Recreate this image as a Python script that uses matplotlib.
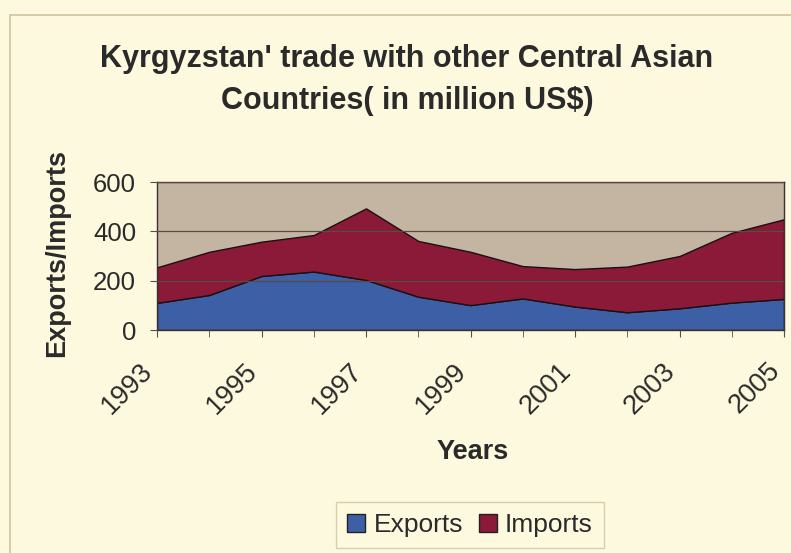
import numpy as np
import matplotlib
matplotlib.use('Agg')
import matplotlib.pyplot as plt
from matplotlib.patches import Rectangle, Patch
from matplotlib.transforms import ScaledTranslation

# Kyrgyzstan trade with other Central Asian countries, million US$
years = list(range(1993, 2006))
exports = [110, 142, 219, 237, 203, 135, 101, 128, 95, 72, 88, 111, 126]
imports = [144, 175, 139, 148, 290, 226, 216, 131, 152, 185, 212, 283, 323]
year_labels = [str(y) for y in years[::2]]

plt.rcParams['font.family'] = ['Liberation Sans', 'DejaVu Sans']

bg = '#fdf9de'
ink = '#2a2a2a'
fig = plt.figure(figsize=(7.91, 5.53), dpi=100, facecolor=bg)
ax = fig.add_axes([157/791, 1 - 330/553, 627/791, 148/553])
ax.set_facecolor('#c4b5a3')

ax.stackplot(years, exports, imports, colors=['#3c5fa5', '#8a1a38'],
             edgecolor='#1a1010', linewidth=1.0)

ax.set_xlim(1993, 2005)
ax.set_ylim(0, 600)
ax.set_yticks([0, 200, 400, 600])
ax.set_xticks(years, minor=True)
ax.set_xticks(years[::2])
ax.set_xticklabels(year_labels, rotation=45, ha='right', va='top',
                   rotation_mode='anchor')
ax.tick_params(axis='x', which='both', length=5, color='#555050', pad=15,
               labelsize=19.5, labelcolor=ink)
ax.tick_params(axis='y', length=5, color='#555050', labelsize=18.5,
               labelcolor=ink, pad=10)
# nudge the slanted year labels to the left
shift = ScaledTranslation(-17/100, 0, fig.dpi_scale_trans)
for lab in ax.get_xticklabels():
    lab.set_transform(lab.get_transform() + shift)
ax.grid(axis='y', color='#5a4a40', linewidth=0.9)
ax.set_axisbelow(False)
for s in ax.spines.values():
    s.set_color('#3a3030')
    s.set_linewidth(1.0)

fig.text(57/791, 1 - 253/553, 'Exports/Imports', fontsize=19.5,
         fontweight='bold', color=ink, rotation=90, ha='center', va='center')
fig.text(473/791, 1 - 452/553, 'Years', fontsize=19.5, fontweight='bold',
         color=ink, ha='center', va='center')

fig.text(407/791, 1 - 59/553, "Kyrgyzstan' trade with other Central Asian",
         fontsize=22, fontweight='bold', color=ink, ha='center', va='center')
fig.text(407/791, 1 - 101/553, 'Countries( in million US$)',
         fontsize=22, fontweight='bold', color=ink, ha='center', va='center')

# outer chart frame
fig.patches.append(Rectangle((10/791, -0.05), 1.1, 1 - 15/553 + 0.05,
                             transform=fig.transFigure, fill=False,
                             edgecolor='#cfc3a0', linewidth=1.2))

handles = [Patch(facecolor='#3c5fa5', edgecolor='#222222', label='Exports'),
           Patch(facecolor='#8a1a38', edgecolor='#222222', label='Imports')]
leg = fig.legend(handles=handles, loc='center', ncol=2,
                 bbox_to_anchor=(470/791, 1 - 525/553), fontsize=19,
                 frameon=True, fancybox=False, handlelength=0.7,
                 handleheight=0.7, handletextpad=0.3, columnspacing=0.6,
                 borderpad=0.4)
leg.get_frame().set_facecolor(bg)
leg.get_frame().set_edgecolor('#cfc3a0')
for t in leg.get_texts():
    t.set_color(ink)

fig.savefig('out.png', dpi=100, facecolor=bg)
